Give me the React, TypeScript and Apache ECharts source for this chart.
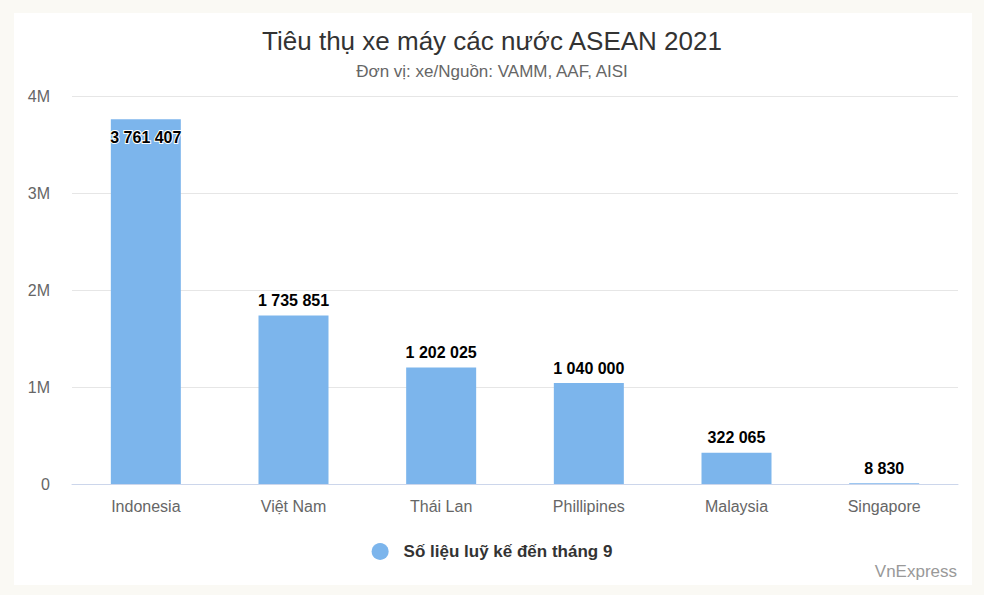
import React, { useEffect, useRef } from "react";
import * as echarts from "echarts";

const categories = ["Indonesia", "Việt Nam", "Thái Lan", "Phillipines", "Malaysia", "Singapore"];
const values = [3761407, 1735851, 1202025, 1040000, 322065, 8830];
const seriesName = "Số liệu luỹ kế đến tháng 9";
const titleText = "Tiêu thụ xe máy các nước ASEAN 2021";
const subtitleText = "Đơn vị: xe/Nguồn: VAMM, AAF, AISI";
const creditText = "VnExpress";

const FONT = '"Liberation Sans", Arial, Helvetica, sans-serif';

function fmt(v: number): string {
  return String(Math.round(v)).replace(/\B(?=(\d{3})+(?!\d))/g, " ");
}

export default function App() {
  const ref = useRef<HTMLDivElement>(null);
  useEffect(() => {
    if (!ref.current) return;
    const chart = echarts.init(ref.current, undefined, { renderer: "svg" });
    const maxV = 4000000;
    chart.setOption({
      animation: false,
      backgroundColor: "#faf9f4",
      textStyle: { fontFamily: FONT },
      graphic: [
        {
          type: "rect",
          z: -10,
          silent: true,
          shape: { x: 14, y: 13, width: 958, height: 572 },
          style: { fill: "#ffffff" },
        },
        {
          type: "text",
          right: 27,
          top: 563,
          style: { text: creditText, fill: "#999999", font: `17px ${FONT}` },
        },
      ],
      title: {
        text: titleText,
        subtext: subtitleText,
        left: "center",
        top: 23,
        itemGap: 9,
        textStyle: { fontFamily: FONT, fontSize: 26, fontWeight: "normal", color: "#333333" },
        subtextStyle: { fontFamily: FONT, fontSize: 17, color: "#666666" },
      },
      legend: {
        data: [seriesName],
        left: "center",
        top: 538,
        icon: "circle",
        itemWidth: 17,
        itemHeight: 17,
        itemGap: 10,
        textStyle: {
          fontFamily: FONT,
          fontSize: 17,
          fontWeight: "bold",
          color: "#333333",
          padding: [0, 0, 0, 10],
        },
      },
      grid: { left: 72, right: 26, top: 96, bottom: 111, containLabel: false },
      xAxis: {
        type: "category",
        data: categories,
        axisLine: { show: true, lineStyle: { color: "#ccd6eb", width: 1 } },
        axisTick: { show: false },
        axisLabel: { color: "#666666", fontSize: 16, margin: 14, fontFamily: FONT },
      },
      yAxis: {
        type: "value",
        min: 0,
        max: maxV,
        interval: 1000000,
        axisLine: { show: false },
        axisTick: { show: false },
        splitLine: { lineStyle: { color: "#e6e6e6", width: 1 } },
        axisLabel: {
          color: "#666666",
          fontSize: 16,
          margin: 22,
          fontFamily: FONT,
          formatter: (v: number) => (v === 0 ? "0" : v / 1000000 + "M"),
        },
      },
      series: [
        {
          name: seriesName,
          type: "bar",
          barWidth: 70,
          itemStyle: { color: "#7cb5ec" },
          data: values.map((v, i) =>
            i === 0
              ? { value: v, label: { position: "insideTop", distance: 10 } }
              : v
          ),
          label: {
            show: true,
            position: "top",
            distance: 7,
            formatter: (p: any) => fmt(p.value),
            fontFamily: FONT,
            fontSize: 16,
            fontWeight: "bold",
            color: "#000000",
            textBorderColor: "#ffffff",
            textBorderWidth: 2,
          },
        },
      ],
    });
    return () => chart.dispose();
  }, []);
  return (
    <div style={{ position: "fixed", left: 0, top: 0, width: 984, height: 595 }}>
      <div ref={ref} style={{ width: 984, height: 595 }} />
    </div>
  );
}
